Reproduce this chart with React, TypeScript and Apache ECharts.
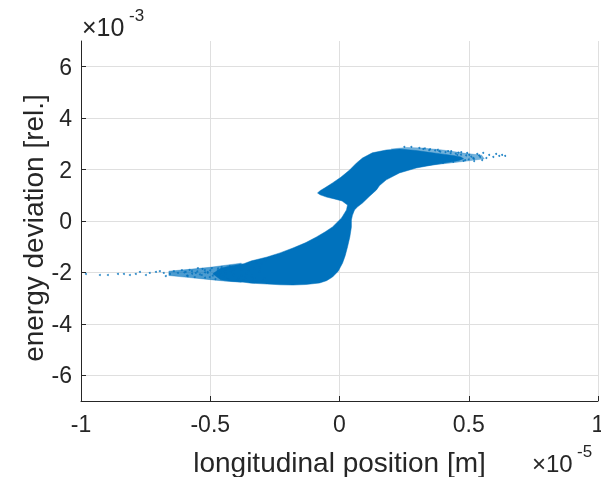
import React, { useEffect, useRef } from 'react';
import * as echarts from 'echarts';

// axis ticks (x in units of 1e-5 m, y in units of 1e-3)
const xTicks = [-1, -0.5, 0, 0.5, 1];
const yTicks = [-6, -4, -2, 0, 2, 4, 6];

// outline of the dense particle cloud (x: 1e-5 m, y: 1e-3)
const coreX = [
  -0.46, -0.42, -0.37, -0.34, -0.28, -0.23, -0.18, -0.13, -0.089, -0.055, -0.027, 0.008, 0.027, 0.031,
  0.010, -0.020, -0.050, -0.075, -0.085, -0.075, -0.058, -0.027, 0.005, 0.039, 0.065, 0.089,
  0.127, 0.181, 0.232, 0.297, 0.340, 0.386, 0.440, 0.470, 0.480,
  0.460, 0.413, 0.359, 0.297, 0.232, 0.181, 0.155, 0.143, 0.115, 0.089, 0.070, 0.058, 0.050,
  0.046, 0.046, 0.040, 0.031, 0.022, 0.012, -0.005, -0.027, -0.050, -0.077, -0.13, -0.18,
  -0.23, -0.28, -0.34, -0.37, -0.42, -0.46, -0.49,
];
const coreY = [
  -1.84, -1.74, -1.66, -1.55, -1.40, -1.24, -1.05, -0.84, -0.62, -0.42, -0.23, 0.12, 0.43, 0.62,
  0.78, 0.86, 0.93, 1.02, 1.09, 1.18, 1.28, 1.48, 1.70, 1.98, 2.25, 2.45,
  2.65, 2.76, 2.80, 2.74, 2.68, 2.62, 2.55, 2.49, 2.42,
  2.34, 2.27, 2.18, 2.06, 1.87, 1.60, 1.38, 1.21, 0.95, 0.70, 0.55, 0.43, 0.22,
  0.04, -0.23, -0.62, -1.01, -1.35, -1.63, -1.95, -2.18, -2.32, -2.41, -2.47, -2.49,
  -2.48, -2.45, -2.42, -2.38, -2.34, -2.28, -2.05,
];

// thinner, speckled fringes of the cloud (left and upper-right)
const leftFringeX = [-0.66, -0.58, -0.50, -0.44, -0.38, -0.38, -0.44, -0.50, -0.58, -0.66];
const leftFringeY = [-1.95, -1.88, -1.80, -1.72, -1.64, -2.38, -2.34, -2.28, -2.20, -2.12];
const rightFringeX = [0.20, 0.26, 0.32, 0.40, 0.48, 0.55, 0.56, 0.50, 0.44, 0.38, 0.30];
const rightFringeY = [2.80, 2.86, 2.84, 2.76, 2.64, 2.56, 2.42, 2.34, 2.27, 2.20, 2.10];

// sparse particles in the tails
const tailX = [
  -0.981, -0.927, -0.896, -0.857, -0.834, -0.811, -0.788, -0.772, -0.749, -0.734, -0.710, -0.695,
  -0.680, -0.672, -0.656, -0.641, -0.625, -0.610, -0.595, -0.587, -0.571, -0.556, -0.548, -0.533,
  -0.521, -0.510, -0.502, -0.494, -0.483, -0.471, -0.463, -0.456, -0.444, -0.432, -0.425, -0.405,
  -0.394, -0.386, -0.363, -0.355, -0.332, -0.320, -0.297, -0.286,
  -0.60, -0.59, -0.58, -0.57, -0.56, -0.55, -0.54, -0.53, -0.52, -0.51, -0.50, -0.49, -0.48,
  -0.47, -0.46, -0.45, -0.44, -0.43, -0.42, -0.41, -0.40, -0.39, -0.38, -0.37, -0.36, -0.35,
  -0.34, -0.33, -0.32, -0.31, -0.30, -0.29, -0.52, -0.47, -0.44, -0.41, -0.38, -0.35, -0.33, -0.31,
  0.502, 0.517, 0.533, 0.544, 0.556, 0.568, 0.579, 0.595, 0.606, 0.618, 0.629, 0.641, 0.486,
  0.471, 0.448, 0.432, 0.405, 0.521, 0.552, 0.494, 0.456, 0.417, 0.386, 0.347, 0.324, 0.371,
  0.340, 0.309, 0.278, 0.251,
  0.33, 0.35, 0.37, 0.39, 0.41, 0.43, 0.45, 0.47, 0.49, 0.51, 0.36, 0.40, 0.44, 0.48, 0.50,
  0.42, 0.46, 0.38, 0.52, 0.54,
];
const tailY = [
  -2.06, -2.10, -2.10, -2.06, -2.06, -2.10, -2.06, -1.98, -2.10, -2.02, -1.98, -1.95,
  -2.02, -2.14, -2.06, -1.95, -2.02, -1.91, -1.98, -2.14, -1.95, -2.02, -1.83, -2.10,
  -1.91, -1.98, -2.18, -1.83, -2.06, -1.91, -2.14, -1.79, -1.98, -2.22, -1.75, -1.87,
  -2.26, -1.71, -2.18, -1.67, -2.30, -1.60, -2.33, -1.52,
  -2.00, -2.12, -1.90, -2.05, -2.18, -1.96, -2.08, -1.86, -2.20, -2.02, -1.92, -2.12, -2.26,
  -1.84, -2.00, -2.16, -1.88, -2.28, -1.96, -2.10, -1.78, -2.20, -1.90, -2.30, -2.04, -1.72,
  -2.14, -1.86, -2.34, -1.98, -1.66, -2.24, -2.00, -2.08, -2.04, -1.88, -2.12, -1.94, -2.22, -1.80,
  2.57, 2.45, 2.61, 2.49, 2.65, 2.45, 2.57, 2.49, 2.61, 2.53, 2.57, 2.53, 2.37,
  2.68, 2.37, 2.72, 2.33, 2.33, 2.37, 2.65, 2.57, 2.49, 2.72, 2.76, 2.80, 2.33,
  2.22, 2.84, 2.88, 2.88,
  2.82, 2.79, 2.75, 2.70, 2.68, 2.64, 2.62, 2.58, 2.55, 2.50, 2.24, 2.26, 2.30, 2.34, 2.40,
  2.72, 2.66, 2.77, 2.42, 2.55,
];

const FONT = 'Liberation Sans, Arial, Helvetica, sans-serif';
const TXT = '#262626';
const BLUE = '#0072BD';

const polygonSeries = (xs: number[], ys: number[], opacity: number) => {
  const pts = xs.map((x, i) => [x, ys[i]]);
  return {
    type: 'custom',
    data: [[xs[0], ys[0]]],
    silent: true,
    clip: true,
    renderItem: (_params: any, api: any) => ({
      type: 'polygon',
      shape: { points: pts.map((p) => api.coord(p)) },
      style: { fill: BLUE, stroke: BLUE, lineWidth: 0.5, opacity },
    }),
  };
};

export default function App() {
  const ref = useRef<HTMLDivElement>(null);
  useEffect(() => {
    if (!ref.current) return;
    const chart = echarts.init(ref.current, null, { renderer: 'svg' });
    const tails = tailX.map((x, i) => [x, tailY[i]]);
    chart.setOption({
      animation: false,
      grid: { left: 81, right: 3, top: 41, bottom: 76, containLabel: false, outerBoundsMode: 'none' },
      xAxis: {
        type: 'value',
        min: xTicks[0],
        max: xTicks[xTicks.length - 1],
        interval: 0.5,
        name: 'longitudinal position [m]',
        nameLocation: 'middle',
        nameGap: 47,
        nameTextStyle: { fontFamily: FONT, fontSize: 28, color: TXT },
        axisLine: { show: true, onZero: false, lineStyle: { color: TXT, width: 1 } },
        axisTick: { show: true, inside: true, length: 5, lineStyle: { color: TXT } },
        axisLabel: { fontFamily: FONT, fontSize: 23, color: TXT, margin: 11, hideOverlap: false },
        splitLine: { show: true, lineStyle: { color: '#dfdfdf', width: 1 } },
      },
      yAxis: {
        type: 'value',
        min: -7,
        max: 7,
        axisLine: { show: true, onZero: false, lineStyle: { color: TXT, width: 1 } },
        axisTick: { show: true, inside: true, length: 5, lineStyle: { color: TXT }, customValues: yTicks },
        axisLabel: { fontFamily: FONT, fontSize: 23, color: TXT, margin: 9, customValues: yTicks },
        splitLine: { show: true, lineStyle: { color: '#dfdfdf', width: 1 } },
      },
      graphic: [
        {
          type: 'text', x: 33, y: 228, rotation: Math.PI / 2,
          style: { text: 'energy deviation [rel.]', fontFamily: FONT, fontSize: 28, fill: TXT, align: 'center', verticalAlign: 'middle' },
        },
        { type: 'text', left: 82, top: 14, style: { text: '×10', fontFamily: FONT, fontSize: 25, fill: TXT } },
        { type: 'text', left: 129, top: 7, style: { text: '-3', fontFamily: FONT, fontSize: 17, fill: TXT } },
        { type: 'text', left: 532, top: 451, style: { text: '×10', fontFamily: FONT, fontSize: 24, fill: TXT } },
        { type: 'text', left: 577, top: 443, style: { text: '-5', fontFamily: FONT, fontSize: 17, fill: TXT } },
      ],
      series: [
        polygonSeries(leftFringeX, leftFringeY, 0.7),
        polygonSeries(rightFringeX, rightFringeY, 0.55),
        polygonSeries(coreX, coreY, 1),
        {
          type: 'scatter',
          data: tails,
          symbol: 'circle',
          symbolSize: 2,
          silent: true,
          itemStyle: { color: BLUE, opacity: 0.8 },
        },
      ],
    });
    return () => chart.dispose();
  }, []);
  return <div ref={ref} style={{ position: 'fixed', left: 0, top: 0, width: 601, height: 477 }} />;
}
